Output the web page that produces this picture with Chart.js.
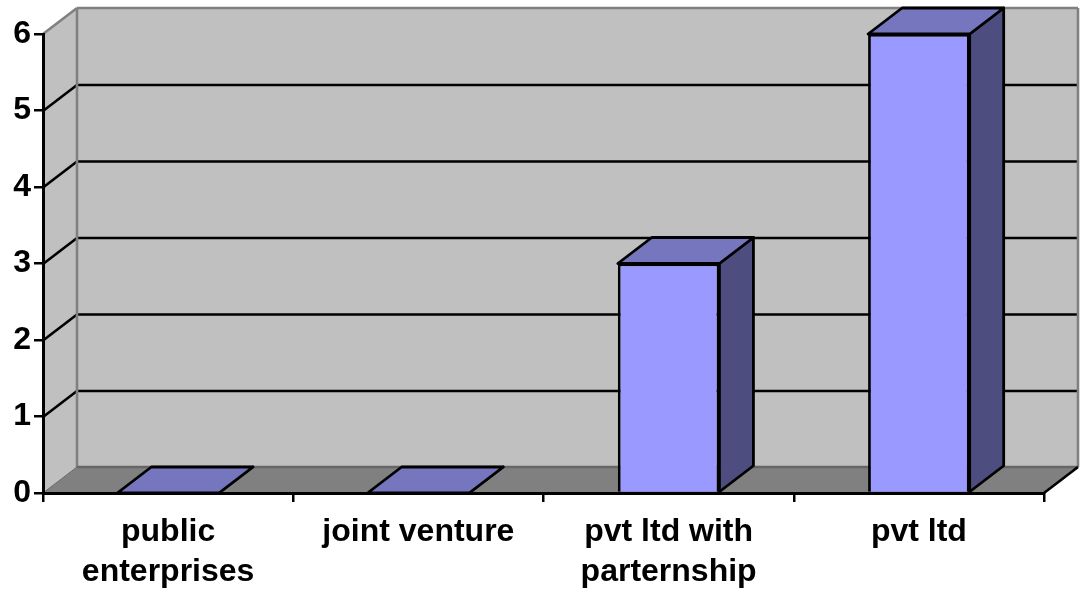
<!DOCTYPE html>
<html>
<head>
<meta charset="utf-8">
<style>
  html, body { margin: 0; padding: 0; background: #fff; }
  canvas { display: block; }
</style>
<script src="https://cdn.jsdelivr.net/npm/chart.js@4"></script>
</head>
<body>
<canvas id="chart" width="1084" height="591"></canvas>
<script>
const categories = [['public', 'enterprises'], 'joint venture', ['pvt ltd with', 'parternship'], 'pvt ltd'];
const values = [0, 0, 3, 6];
const yTicks = [0, 1, 2, 3, 4, 5, 6];

// depth of the fake 3D box, in px
const DX = 34;
const DY = 26;

function poly(ctx, pts, fill, stroke, lw) {
  ctx.beginPath();
  pts.forEach((p, i) => {
    if (i === 0) ctx.moveTo(p[0], p[1]);
    else ctx.lineTo(p[0], p[1]);
  });
  ctx.closePath();
  if (fill) {
    ctx.fillStyle = fill;
    ctx.fill();
  }
  if (stroke) {
    ctx.strokeStyle = stroke;
    ctx.lineWidth = lw;
    ctx.lineJoin = 'round';
    ctx.stroke();
  }
}

function line(ctx, x1, y1, x2, y2, color, lw) {
  ctx.beginPath();
  ctx.moveTo(x1, y1);
  ctx.lineTo(x2, y2);
  ctx.strokeStyle = color;
  ctx.lineWidth = lw;
  ctx.stroke();
}

// ── Walls, floor and gridlines ──
const box3d = {
  id: 'box3d',
  beforeDraw(chart) {
    const ctx = chart.ctx;
    const { left, right } = chart.chartArea;
    const y = chart.scales.y;
    const top = y.getPixelForValue(yTicks[yTicks.length - 1]);
    const bottom = y.getPixelForValue(yTicks[0]);
    ctx.save();

    poly(ctx, [[left + DX, top - DY], [right + DX, top - DY], [right + DX, bottom - DY], [left + DX, bottom - DY]], '#c0c0c0');
    poly(ctx, [[left, top], [left + DX, top - DY], [left + DX, bottom - DY], [left, bottom]], '#c0c0c0');
    poly(ctx, [[left, bottom], [left + DX, bottom - DY], [right + DX, bottom - DY], [right, bottom]], '#808080');

    yTicks.slice(1, -1).forEach(v => {
      const py = y.getPixelForValue(v) + 0.5;
      line(ctx, left, py, left + DX, py - DY, '#000', 2.6);
      line(ctx, left + DX, py - DY, right + DX, py - DY, '#000', 2.6);
    });

    line(ctx, left, top, left + DX, top - DY, '#808080', 2.6);
    line(ctx, left + DX, top - DY, right + DX, top - DY, '#808080', 2.6);
    line(ctx, left + DX, top - DY, left + DX, bottom - DY, '#808080', 2.6);
    line(ctx, right + DX, top - DY, right + DX, bottom - DY, '#808080', 2.6);
    line(ctx, left + DX, bottom - DY, right + DX, bottom - DY, '#666', 2.6);
    line(ctx, left, bottom, left + DX, bottom - DY, '#666', 1);
    line(ctx, right, bottom, right + DX, bottom - DY, '#000', 2.6);
    ctx.restore();
  },
  // top and side faces of each bar
  beforeDatasetsDraw(chart) {
    const ctx = chart.ctx;
    ctx.save();
    chart.getDatasetMeta(0).data.forEach(bar => {
      const l = bar.x - bar.width / 2;
      const r = bar.x + bar.width / 2;
      const t = bar.y;
      const b = bar.base;
      poly(ctx, [[r, t], [r + DX, t - DY], [r + DX, b - DY], [r, b]], '#4d4d80', '#000', 2.8);
      poly(ctx, [[l, t], [l + DX, t - DY], [r + DX, t - DY], [r, t]], '#7676bf', '#000', 2.8);
    });
    ctx.restore();
  }
};

const axisFont = { family: '"Liberation Sans", Arial, sans-serif', size: 32, weight: 'bold', lineHeight: 1.25 };

new Chart(document.getElementById('chart'), {
  type: 'bar',
  data: {
    labels: categories,
    datasets: [{
      data: values,
      backgroundColor: '#9999ff',
      borderColor: '#000',
      borderWidth: 2.8,
      categoryPercentage: 1,
      barPercentage: 0.406
    }]
  },
  options: {
    responsive: false,
    animation: false,
    layout: { padding: { top: 34, right: 40 } },
    plugins: { legend: { display: false }, tooltip: { enabled: false } },
    scales: {
      x: {
        afterFit: s => { s.height = 98; },
        grid: { drawOnChartArea: false, drawTicks: true, tickLength: 9, color: '#000', lineWidth: 2.5 },
        border: { color: '#000', width: 3 },
        ticks: { color: '#000', font: axisFont, padding: 10, maxRotation: 0, autoSkip: false }
      },
      y: {
        min: yTicks[0],
        max: yTicks[yTicks.length - 1],
        afterFit: s => { s.width = 43; },
        grid: { drawOnChartArea: false, drawTicks: true, tickLength: 9, color: '#000', lineWidth: 2.5 },
        border: { color: '#000', width: 3 },
        ticks: { color: '#000', font: axisFont, padding: 3, stepSize: 1 }
      }
    }
  },
  plugins: [box3d]
});
</script>
</body>
</html>
